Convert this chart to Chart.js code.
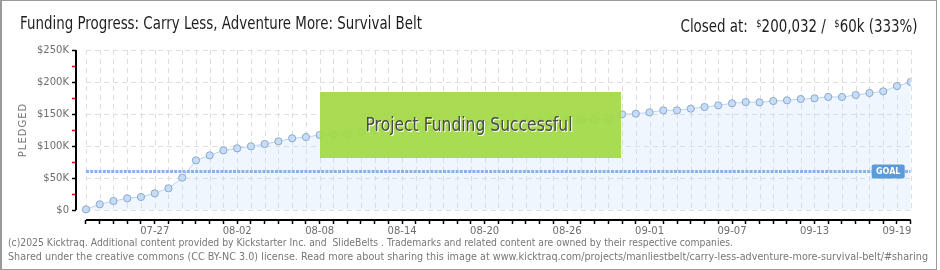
<!DOCTYPE html>
<html>
<head>
<meta charset="utf-8">
<script src="https://cdn.jsdelivr.net/npm/chart.js@4.4.1/dist/chart.umd.min.js"></script>
<style>
  body { margin: 0; width: 940px; height: 270px; overflow: hidden; background: #fff; }
  #frame { position: absolute; left: 0; top: 0; width: 937px; height: 270px; box-sizing: border-box;
           border: 1px solid #9a9a9a; border-left-width: 2px; pointer-events: none; }
  canvas { position: absolute; left: 0; top: 0; }
  .txt { position: absolute; white-space: nowrap; font-family: "DejaVu Sans", sans-serif; }
  #title { left: 20px; top: 15px; font-size: 17px; line-height: 17px; color: #1e1e1e; transform-origin: left top; }
  #closed { right: 22px; top: 15px; font-size: 17px; line-height: 17px; color: #1e1e1e; transform-origin: right top; }
  #closed sup { font-size: 0.62em; vertical-align: 0.45em; }
  .foot { left: 8px; font-size: 10.5px; line-height: 12px; color: #777; transform-origin: left top; }
  #foot1 { top: 236px; }
  #foot2 { top: 250px; }
</style>
</head>
<body>
<canvas id="chart" width="940" height="270"></canvas>
<div id="title" class="txt">Funding Progress: Carry Less, Adventure More: Survival Belt</div>
<div id="closed" class="txt">Closed at:&nbsp; <sup>$</sup>200,032 / &nbsp;<sup>$</sup>60k (333%)</div>
<div id="foot1" class="txt foot">(c)2025 Kicktraq. Additional content provided by Kickstarter Inc. and&nbsp; SlideBelts . Trademarks and related content are owned by their respective companies.</div>
<div id="foot2" class="txt foot">Shared under the creative commons (CC BY-NC 3.0) license. Read more about sharing this image at www.kicktraq.com/projects/manliestbelt/carry-less-adventure-more-survival-belt/#sharing</div>
<div id="frame"></div>
<script>
// dati
const dates = [
  '07-22','07-23','07-24','07-25','07-26','07-27','07-28','07-29','07-30','07-31',
  '08-01','08-02','08-03','08-04','08-05','08-06','08-07','08-08','08-09','08-10',
  '08-11','08-12','08-13','08-14','08-15','08-16','08-17','08-18','08-19','08-20',
  '08-21','08-22','08-23','08-24','08-25','08-26','08-27','08-28','08-29','08-30',
  '08-31','09-01','09-02','09-03','09-04','09-05','09-06','09-07','09-08','09-09',
  '09-10','09-11','09-12','09-13','09-14','09-15','09-16','09-17','09-18','09-19','09-20'
];
const pledged = [
  1000, 8900, 14000, 18200, 20300, 26000, 33900, 50500, 77600, 85400,
  93200, 96300, 99500, 103100, 107300, 112000, 114000, 117200, 118200, 118700,
  121400, 124500, 126000, 127200, 128600, 129500, 130800, 131700, 132900, 133800,
  135000, 136100, 137200, 138300, 139400, 140000, 140600, 141000, 144200, 149500,
  150500, 152600, 155700, 155700, 158300, 160900, 163500, 166700, 168700, 168200,
  170300, 171400, 173400, 174500, 176600, 176600, 179700, 182800, 185400, 193700, 200032
];
const goal = 60000;
const xTickLabels = ['07-27','08-02','08-08','08-14','08-20','08-26','09-01','09-07','09-13','09-19'];
const yTicks = [0, 25000, 50000, 75000, 100000, 125000, 150000, 175000, 200000, 225000, 250000];
const yMax = 250000;

// stringe i testi html in orizzontale fino alla larghezza voluta
function fitWidth(id, target) {
  const el = document.getElementById(id);
  const w = el.getBoundingClientRect().width;
  el.style.transform = 'scaleX(' + (target / w) + ')';
}
fitWidth('title', 402);
fitWidth('closed', 237);
fitWidth('foot1', 725);
fitWidth('foot2', 920);

const tickFont = { family: 'DejaVu Sans', size: 10 };

// griglia tratteggiata solo sull'area dei dati
const gridLines = {
  id: 'gridLines',
  beforeDatasetsDraw(chart) {
    const { ctx, scales: { x, y } } = chart;
    const left = x.getPixelForValue(0), right = x.getPixelForValue(dates.length - 1);
    const top = y.getPixelForValue(yMax), bottom = y.getPixelForValue(0);
    ctx.save();
    ctx.strokeStyle = '#dedede';
    ctx.lineWidth = 1;
    ctx.setLineDash([5, 4]);
    ctx.beginPath();
    dates.forEach((d, i) => {
      const px = Math.round(x.getPixelForValue(i)) + 0.5;
      ctx.moveTo(px, top); ctx.lineTo(px, bottom);
    });
    yTicks.filter(v => v % 50000 === 0).forEach(v => {
      const py = Math.round(y.getPixelForValue(v)) + 0.5;
      ctx.moveTo(left, py); ctx.lineTo(right, py);
    });
    ctx.stroke();
    ctx.restore();
  }
};

// linee degli assi, etichetta GOAL, riquadro verde
const extras = {
  id: 'extras',
  afterDatasetsDraw(chart) {
    const { ctx, scales: { x, y } } = chart;
    const area = chart.chartArea;
    const left = x.getPixelForValue(0), right = x.getPixelForValue(dates.length - 1);
    ctx.save();
    ctx.strokeStyle = '#000';
    ctx.lineWidth = 2;
    ctx.beginPath();
    ctx.moveTo(area.left, y.getPixelForValue(yMax)); ctx.lineTo(area.left, y.getPixelForValue(0));
    ctx.moveTo(left, area.bottom); ctx.lineTo(right, area.bottom);
    ctx.stroke();

    // GOAL
    const gy = y.getPixelForValue(goal);
    ctx.fillStyle = '#5b9bd8';
    ctx.beginPath();
    ctx.roundRect(right - 39, gy - 7, 33, 14, 2);
    ctx.fill();
    ctx.fillStyle = '#fff';
    ctx.font = 'bold 8px "DejaVu Sans"';
    ctx.textAlign = 'center';
    ctx.textBaseline = 'middle';
    ctx.fillText('GOAL', right - 22.5, gy + 0.5);

    // Project Funding Successful
    ctx.fillStyle = 'rgba(163, 217, 70, 0.93)';
    ctx.fillRect(320, 92, 301, 66);
    const msg = 'Project Funding Successful';
    ctx.save();
    ctx.font = '19px "DejaVu Sans"';
    const sx = 207 / ctx.measureText(msg).width;
    ctx.translate(469, 126);
    ctx.scale(sx, 1);
    ctx.fillStyle = '#fff';
    ctx.fillText(msg, 1 / sx, 1);
    ctx.fillStyle = '#4a4a4a';
    ctx.fillText(msg, 0, 0);
    ctx.restore();

    // titolo asse y
    ctx.translate(23, 130);
    ctx.rotate(-Math.PI / 2);
    ctx.font = '10px "DejaVu Sans"';
    ctx.letterSpacing = '1px';
    ctx.fillStyle = '#777';
    ctx.fillText('PLEDGED', 0, 0);
    ctx.restore();
  }
};

new Chart(document.getElementById('chart'), {
  type: 'line',
  data: {
    datasets: [
      {
        label: 'Pledged',
        data: pledged.map((v, i) => ({ x: i, y: v })),
        order: 1,
        borderColor: '#b9d5f4',
        borderWidth: 1,
        backgroundColor: 'rgba(190, 218, 250, 0.25)',
        fill: 'origin',
        tension: 0,
        pointRadius: 3.6,
        pointBackgroundColor: '#c5ddf8',
        pointBorderColor: '#8fa8c6',
        pointBorderWidth: 1
      },
      {
        label: 'Goal',
        data: [{ x: 0, y: goal }, { x: dates.length - 1, y: goal }],
        order: 0,
        borderColor: '#86b3e8',
        borderWidth: 3,
        borderDash: [3, 1.2],
        pointRadius: 0,
        fill: false
      }
    ]
  },
  options: {
    responsive: false,
    animation: false,
    devicePixelRatio: 1,
    layout: { padding: { left: 10, top: 50, right: 29.3, bottom: 30 } },
    plugins: { legend: { display: false }, tooltip: { enabled: false } },
    scales: {
      x: {
        type: 'linear',
        min: -0.727,
        max: dates.length - 1,
        afterFit: s => { s.height = 20; },
        afterBuildTicks: s => { s.ticks = dates.map((d, i) => ({ value: i })); },
        border: { display: false },
        grid: { drawOnChartArea: false, tickLength: 4, tickColor: '#000', tickWidth: 1.5 },
        ticks: {
          autoSkip: false, maxRotation: 0, padding: 1,
          font: tickFont, color: '#6e6e6e',
          callback: v => xTickLabels.includes(dates[v]) ? dates[v] : ''
        }
      },
      y: {
        min: -15625,
        max: yMax,
        afterFit: s => { s.width = 66; },
        afterBuildTicks: s => { s.ticks = yTicks.map(v => ({ value: v })); },
        border: { display: false },
        grid: {
          drawOnChartArea: false, tickLength: 4, tickWidth: 1.5,
          tickColor: c => c.tick && c.tick.value % 50000 ? '#e00000' : '#000'
        },
        ticks: {
          padding: 3, font: tickFont, color: '#6e6e6e',
          callback: v => v % 50000 ? '' : (v === 0 ? '$0' : '$' + v / 1000 + 'K')
        }
      }
    }
  },
  plugins: [gridLines, extras]
});
</script>
</body>
</html>
